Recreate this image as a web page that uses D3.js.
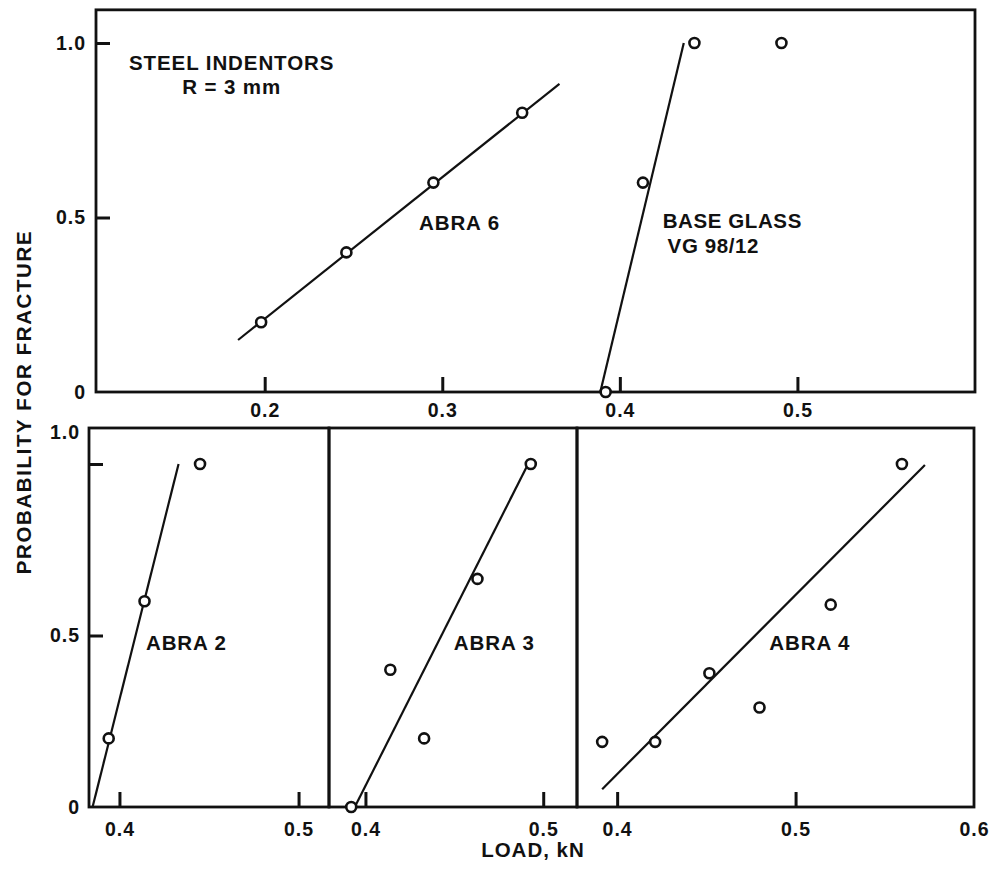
<!DOCTYPE html>
<html>
<head>
<meta charset="utf-8">
<script src="https://cdn.jsdelivr.net/npm/d3@7/dist/d3.min.js"></script>
<style>
  html, body { margin: 0; padding: 0; background: #fff; }
  svg text { font-family: "Liberation Sans", Arial, Helvetica, sans-serif; font-weight: bold; fill: #111; }
</style>
</head>
<body>
<svg id="chart" width="992" height="879"></svg>
<script>
// Fracture probability vs. load, steel indentors R = 3 mm

// Upper panel: ABRA 6 and base glass VG 98/12
const abra6Load = [0.198, 0.246, 0.295, 0.345];
const abra6Prob = [0.2, 0.4, 0.6, 0.8];
const abra6FitLoad = [0.185, 0.366];
const abra6FitProb = [0.149, 0.883];

const baseLoad = [0.392, 0.413, 0.442, 0.491];
const baseProb = [0.0, 0.6, 1.0, 1.0];
const baseFitLoad = [0.389, 0.436];
const baseFitProb = [0.0, 1.0];

// Lower panels
const abra2Load = [0.394, 0.414, 0.445];
const abra2Prob = [0.2, 0.6, 1.0];
const abra2FitLoad = [0.385, 0.433];
const abra2FitProb = [0.0, 1.0];

const abra3Load = [0.392, 0.414, 0.433, 0.463, 0.493];
const abra3Prob = [0.0, 0.4, 0.2, 0.665, 1.0];
const abra3FitLoad = [0.394, 0.4915];
const abra3FitProb = [0.0, 1.0];

const abra4Load = [0.3916, 0.4213, 0.4517, 0.4798, 0.5197, 0.5596];
const abra4Prob = [0.19, 0.19, 0.39, 0.29, 0.59, 1.0];
const abra4FitLoad = [0.3916, 0.5725];
const abra4FitProb = [0.052, 0.997];

// Tick values and labels
const topXTicks = [0.2, 0.3, 0.4, 0.5];
const topYTicks = [0, 0.5, 1.0];
const lowXTicksA = [0.4, 0.5];
const lowXTicksB = [0.4, 0.5, 0.6];
const lowYTicks = [0, 0.5, 1.0];
const fmtTick = d => d === 0 ? "0" : d3.format(".1f")(d);

const svg = d3.select("#chart");
svg.append("rect").attr("width", 992).attr("height", 879).attr("fill", "#fff");

const ink = "#111";

function zip(xs, ys) { return xs.map((x, i) => [x, ys[i]]); }

function drawSeries(g, x, y, load, prob, fitLoad, fitProb) {
  const line = d3.line().x(d => x(d[0])).y(d => y(d[1]));
  g.append("path")
    .datum(zip(fitLoad, fitProb))
    .attr("d", line)
    .attr("fill", "none")
    .attr("stroke", ink)
    .attr("stroke-width", 2.2);
  g.selectAll(null)
    .data(zip(load, prob))
    .enter().append("circle")
    .attr("cx", d => x(d[0]))
    .attr("cy", d => y(d[1]))
    .attr("r", 5)
    .attr("fill", "#fff")
    .attr("stroke", ink)
    .attr("stroke-width", 2.6);
}

function styleAxis(g) {
  g.select(".domain").remove();
  g.selectAll(".tick line").attr("stroke", ink).attr("stroke-width", 3);
  g.selectAll(".tick text")
    .attr("fill", ink)
    .style("font-size", "19.5px")
    .style("letter-spacing", "1px")
    .style("font-family", "'Liberation Sans', Arial, sans-serif")
    .style("font-weight", "bold");
}

function frame(x0, x1, y0, y1) {
  svg.append("rect")
    .attr("x", x0).attr("y", y0)
    .attr("width", x1 - x0).attr("height", y1 - y0)
    .attr("fill", "none")
    .attr("stroke", ink)
    .attr("stroke-width", 2.8);
}

function label(txt, px, py, anchor, size, spacing) {
  svg.append("text")
    .attr("x", px).attr("y", py)
    .attr("text-anchor", anchor || "start")
    .style("font-size", (size || 20) + "px")
    .style("letter-spacing", (spacing == null ? 0.8 : spacing) + "px")
    .text(txt);
}

// ---------- upper panel ----------
const xTop = d3.scaleLinear().domain([0.105, 0.6]).range([96, 975]);
const yTop = d3.scaleLinear().domain([0, 1]).range([392, 43]);
const topFrameVal = 1.095;

frame(xTop.range()[0], xTop.range()[1], yTop(topFrameVal), yTop(0));

svg.append("g")
  .attr("transform", `translate(0,${yTop(0)})`)
  .call(d3.axisBottom(xTop).tickValues(topXTicks).tickSize(-15).tickPadding(11).tickFormat(fmtTick))
  .call(styleAxis);

svg.append("g")
  .attr("transform", `translate(${xTop.range()[0]},0)`)
  .call(d3.axisLeft(yTop).tickValues(topYTicks).tickSize(-14).tickPadding(10).tickFormat(fmtTick))
  .call(styleAxis)
  .call(g => g.selectAll(".tick").filter(d => d === 0).select("line").remove());

const gTop = svg.append("g");
drawSeries(gTop, xTop, yTop, abra6Load, abra6Prob, abra6FitLoad, abra6FitProb);
drawSeries(gTop, xTop, yTop, baseLoad, baseProb, baseFitLoad, baseFitProb);

label("STEEL INDENTORS", xTop(0.1814), yTop(0.923), "middle", 20.5, 0.9);
label("R = 3 mm", xTop(0.1814), yTop(0.854), "middle", 20.5, 0.9);
label("ABRA 6", xTop(0.2869), yTop(0.464), "start", 20.5, 0.9);
label("BASE GLASS", xTop(0.4241), yTop(0.470), "start", 20.5, 0.6);
label("VG 98/12", xTop(0.4269), yTop(0.398), "start", 20.5, 0.6);

// ---------- lower panels ----------
const yLow = d3.scaleLinear().domain([0, 1]).range([807, 464]);
const lowFrameVal = 1.105;

const panels = [
  { x: d3.scaleLinear().domain([0.383, 0.517]).range([89, 329]), ticks: lowXTicksA,
    load: abra2Load, prob: abra2Prob, fitLoad: abra2FitLoad, fitProb: abra2FitProb,
    name: "ABRA 2", lx: 0.4148 },
  { x: d3.scaleLinear().domain([0.3795, 0.5190]).range([329, 577]), ticks: lowXTicksA,
    load: abra3Load, prob: abra3Prob, fitLoad: abra3FitLoad, fitProb: abra3FitProb,
    name: "ABRA 3", lx: 0.4497 },
  { x: d3.scaleLinear().domain([0.3775, 0.6]).range([577, 974]), ticks: lowXTicksB,
    load: abra4Load, prob: abra4Prob, fitLoad: abra4FitLoad, fitProb: abra4FitProb,
    name: "ABRA 4", lx: 0.4853 }
];

panels.forEach(p => {
  frame(p.x.range()[0], p.x.range()[1], yLow(lowFrameVal), yLow(0));

  svg.append("g")
    .attr("transform", `translate(0,${yLow(0)})`)
    .call(d3.axisBottom(p.x).tickValues(p.ticks).tickSize(-15).tickPadding(15).tickFormat(fmtTick))
    .call(styleAxis)
    .call(a => a.selectAll(".tick").filter(d => d === 0.6).select("line").remove());

  const g = svg.append("g");
  drawSeries(g, p.x, yLow, p.load, p.prob, p.fitLoad, p.fitProb);

  label(p.name, p.x(p.lx), yLow(0.458), "start", 20.5, 0.9);
});

// shared y axis on the left of the lower row
svg.append("g")
  .attr("transform", `translate(${panels[0].x.range()[0]},0)`)
  .call(d3.axisLeft(yLow).tickValues(lowYTicks).tickSize(-14).tickPadding(9).tickFormat(fmtTick))
  .call(styleAxis)
  .call(g => g.selectAll(".tick").filter(d => d === 0).select("line").remove())
  .call(g => g.selectAll(".tick").filter(d => d === 1).select("text")
    .attr("y", yLow(lowFrameVal) - yLow(1) + 4));

// axis titles
label("LOAD, kN", 533, 857, "middle", 20.5, 1);

svg.append("text")
  .attr("transform", "translate(31,402) rotate(-90)")
  .attr("text-anchor", "middle")
  .style("font-size", "20.5px")
  .style("letter-spacing", "1.6px")
  .text("PROBABILITY FOR FRACTURE");
</script>
</body>
</html>
